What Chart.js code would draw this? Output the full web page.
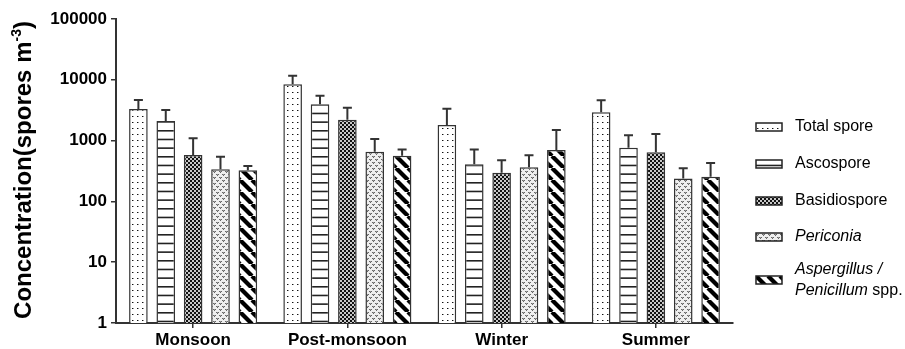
<!DOCTYPE html>
<html>
<head>
<meta charset="utf-8">
<script src="https://cdn.jsdelivr.net/npm/chart.js@4.4.1/dist/chart.umd.min.js"></script>
<style>
  html, body { margin: 0; padding: 0; background: #fff; }
  #grafica { display: block; }
</style>
</head>
<body>
<canvas id="grafica" width="905" height="349"></canvas>
<script>
// Datos (media y extremo superior de la barra de error)
const temporadas = ['Monsoon', 'Post-monsoon', 'Winter', 'Summer'];
const nombresSeries = ['Total spore', 'Ascospore', 'Basidiospore', 'Periconia', 'Aspergillus / Penicillum spp.'];

const totalSpore = [3300, 8450, 1810, 2920];
const ascospore = [2100, 3960, 410, 760];
const basidiospore = [580, 2200, 296, 643];
const periconia = [337, 657, 364, 239];
const aspergillus = [325, 563, 700, 255];

const totalSporeSup = [4650, 11700, 3330, 4600];
const ascosporeSup = [3200, 5460, 717, 1226];
const basidiosporeSup = [1090, 3470, 473, 1290];
const periconiaSup = [545, 1065, 573, 350];
const aspergillusSup = [382, 717, 1490, 428];

const ticksY = [1, 10, 100, 1000, 10000, 100000];

const medias = [totalSpore, ascospore, basidiospore, periconia, aspergillus];
const superiores = [totalSporeSup, ascosporeSup, basidiosporeSup, periconiaSup, aspergillusSup];

// Tramas de relleno
function crearTrama(w, h, dibujar) {
    const c = document.createElement('canvas');
    c.width = w;
    c.height = h;
    const g = c.getContext('2d');
    dibujar(g);
    return document.getElementById('grafica').getContext('2d').createPattern(c, 'repeat');
}

const tramaPuntos = crearTrama(5, 6, g => {
    g.fillStyle = '#fff';
    g.fillRect(0, 0, 5, 6);
    g.fillStyle = '#111';
    g.fillRect(2, 2, 1, 1);
    g.fillStyle = '#999';
    g.fillRect(3, 2, 1, 1);
});

const tramaLineas = crearTrama(4, 26, g => {
    g.fillStyle = '#fff';
    g.fillRect(0, 0, 4, 26);
    g.fillStyle = '#222';
    g.fillRect(0, 0, 4, 1.6);
    g.fillRect(0, 8.67, 4, 1.6);
    g.fillRect(0, 17.33, 4, 1.6);
});

const tramaCuadros = crearTrama(4, 4, g => {
    g.fillStyle = '#111';
    g.fillRect(0, 0, 4, 4);
    g.fillStyle = '#c8c8c8';
    g.fillRect(0, 0, 2, 2);
    g.fillRect(2, 2, 2, 2);
});

const tramaCorazones = crearTrama(6, 6, g => {
    g.fillStyle = '#eee';
    g.fillRect(0, 0, 6, 6);
    g.fillStyle = '#666';
    // pequeñas "v" grises
    g.fillRect(0, 0, 1, 1); g.fillRect(2, 0, 1, 1); g.fillRect(1, 1, 1, 1);
    g.fillRect(3, 3, 1, 1); g.fillRect(5, 3, 1, 1); g.fillRect(4, 4, 1, 1);
    g.fillStyle = '#999';
    g.fillRect(1, 0, 1, 1); g.fillRect(4, 3, 1, 1);
});

const tramaDiagonal = crearTrama(12, 12, g => {
    g.fillStyle = '#fff';
    g.fillRect(0, 0, 12, 12);
    g.strokeStyle = '#000';
    g.lineWidth = 4.2;
    [-12, 0, 12].forEach(x0 => {
        g.beginPath();
        g.moveTo(x0, 0);
        g.lineTo(x0 + 12, 12);
        g.stroke();
    });
});

const tramas = [tramaPuntos, tramaLineas, tramaCuadros, tramaCorazones, tramaDiagonal];

// Barras de error (solo hacia arriba)
const barrasError = {
    id: 'barrasError',
    afterDatasetsDraw(chart) {
        const ctx = chart.ctx;
        const y = chart.scales.y;
        ctx.save();
        ctx.strokeStyle = '#333';
        ctx.lineWidth = 2;
        chart.data.datasets.forEach((ds, i) => {
            const meta = chart.getDatasetMeta(i);
            meta.data.forEach((barra, j) => {
                const yCap = y.getPixelForValue(superiores[i][j]);
                ctx.beginPath();
                ctx.moveTo(barra.x, barra.y);
                ctx.lineTo(barra.x, yCap);
                ctx.moveTo(barra.x - 4.5, yCap);
                ctx.lineTo(barra.x + 4.5, yCap);
                ctx.stroke();
            });
        });
        ctx.restore();
    }
};

// Título del eje Y con superíndice
const tituloEjeY = {
    id: 'tituloEjeY',
    afterDraw(chart) {
        const ctx = chart.ctx;
        const fuente = 'bold 24px "Liberation Sans", Arial, sans-serif';
        const fuenteSup = 'bold 14px "Liberation Sans", Arial, sans-serif';
        const parte1 = 'Concentration(spores m';
        const sup = '-3';
        const parte2 = ')';
        ctx.save();
        ctx.font = fuente;
        const w1 = ctx.measureText(parte1).width;
        const w3 = ctx.measureText(parte2).width;
        ctx.font = fuenteSup;
        const w2 = ctx.measureText(sup).width;
        const total = w1 + w2 + w3;
        ctx.translate(31, 170);
        ctx.rotate(-Math.PI / 2);
        ctx.fillStyle = '#000';
        ctx.textBaseline = 'alphabetic';
        let x = -total / 2;
        ctx.font = fuente;
        ctx.fillText(parte1, x, 0);
        x += w1;
        ctx.font = fuenteSup;
        ctx.fillText(sup, x, -10);
        x += w2;
        ctx.font = fuente;
        ctx.fillText(parte2, x, 0);
        ctx.restore();
    }
};

// Leyenda personalizada (cursivas mezcladas)
const leyenda = {
    id: 'leyenda',
    afterDraw(chart) {
        const ctx = chart.ctx;
        const normal = '16px "Liberation Sans", Arial, sans-serif';
        const cursiva = 'italic 16px "Liberation Sans", Arial, sans-serif';
        const items = [
            { y: 127, lineas: [[['Total spore', normal]]] },
            { y: 164, lineas: [[['Ascospore', normal]]] },
            { y: 201, lineas: [[['Basidiospore', normal]]] },
            { y: 237, lineas: [[['Periconia', cursiva]]] },
            { y: 280, lineas: [[['Aspergillus /', cursiva]], [['Penicillum', cursiva], [' spp.', normal]]] }
        ];
        ctx.save();
        ctx.textBaseline = 'middle';
        ctx.fillStyle = '#000';
        items.forEach((it, i) => {
            ctx.fillStyle = tramas[i];
            ctx.fillRect(756, it.y - 4, 26, 8);
            ctx.strokeStyle = '#222';
            ctx.lineWidth = 1.5;
            ctx.strokeRect(756, it.y - 4, 26, 8);
            ctx.fillStyle = '#000';
            const n = it.lineas.length;
            it.lineas.forEach((partes, k) => {
                const yl = it.y + (k - (n - 1) / 2) * 21;
                let x = 795;
                partes.forEach(([texto, f]) => {
                    ctx.font = f;
                    ctx.fillText(texto, x, yl);
                    x += ctx.measureText(texto).width;
                });
            });
        });
        ctx.restore();
    }
};

const ctx = document.getElementById('grafica').getContext('2d');

window.graficaEsporas = new Chart(ctx, {
    type: 'bar',
    data: {
        labels: temporadas,
        datasets: medias.map((valores, i) => ({
            label: nombresSeries[i],
            data: valores,
            backgroundColor: tramas[i],
            borderColor: '#333',
            borderWidth: 1.5,
            borderSkipped: 'bottom',
            categoryPercentage: 0.887,
            barPercentage: 0.68
        }))
    },
    options: {
        responsive: false,
        animation: false,
        layout: {
            padding: { top: 19, right: 172, left: 0, bottom: 0 }
        },
        plugins: {
            legend: { display: false },
            tooltip: { enabled: false }
        },
        scales: {
            x: {
                grid: { drawOnChartArea: false, offset: false, tickLength: 5, color: '#333', lineWidth: 1.5 },
                border: { color: '#333', width: 2 },
                ticks: {
                    color: '#000',
                    padding: 2,
                    font: { family: '"Liberation Sans", Arial, sans-serif', size: 17, weight: 'bold' }
                },
                afterFit: s => { s.height = 26; }
            },
            y: {
                type: 'logarithmic',
                min: 1,
                max: 100000,
                afterBuildTicks: s => { s.ticks = ticksY.map(v => ({ value: v })); },
                grid: { drawOnChartArea: false, tickLength: 5, color: '#333', lineWidth: 1.5 },
                border: { color: '#333', width: 2 },
                ticks: {
                    color: '#000',
                    padding: 4,
                    font: { family: '"Liberation Sans", Arial, sans-serif', size: 17, weight: 'bold' },
                    callback: v => String(v)
                },
                afterFit: s => { s.width = 116; }
            }
        }
    },
    plugins: [barrasError, tituloEjeY, leyenda]
});
</script>
</body>
</html>
